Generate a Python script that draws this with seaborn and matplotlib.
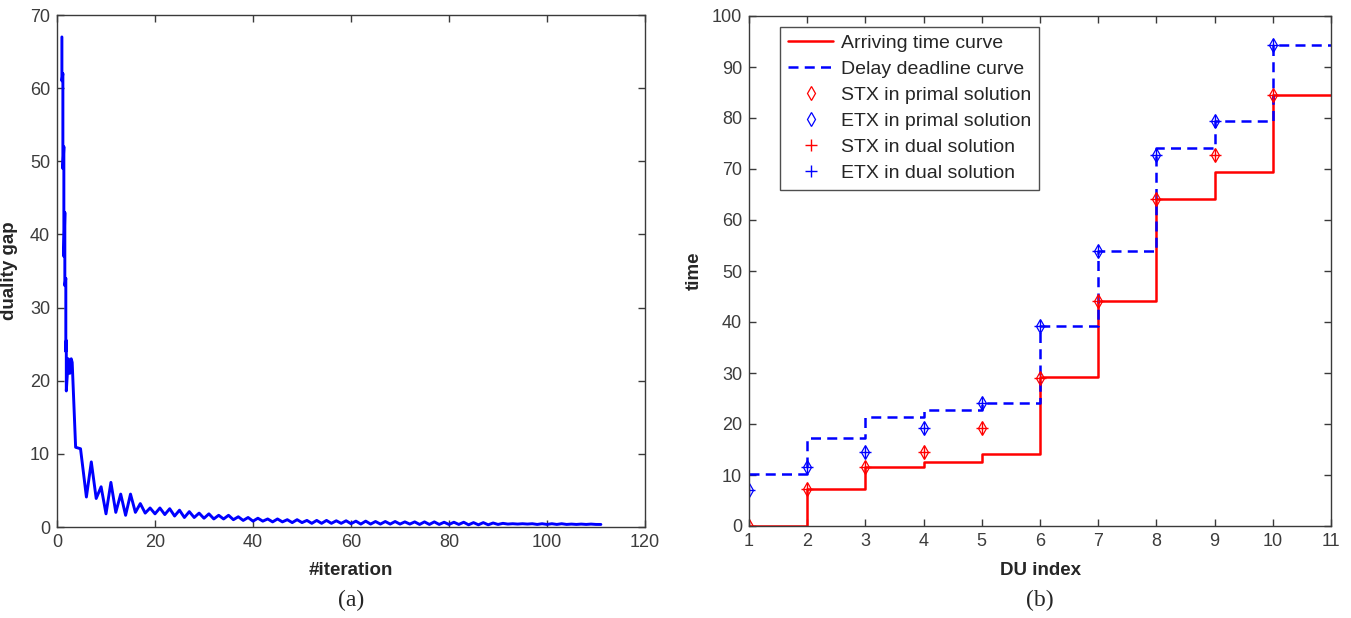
import matplotlib
matplotlib.use("Agg")
import matplotlib.pyplot as plt
import seaborn as sns

# ---------------------------------------------------------------
# (a) duality gap vs iteration
# ---------------------------------------------------------------
gap_iter_head = [1.0, 1.0, 1.2, 1.2, 1.4, 1.4, 1.6, 1.6, 1.8, 1.8, 1.9, 1.9,
                 2.3, 2.6, 2.9, 3.1, 3.8, 4.8, 6, 7, 8, 9, 10, 11]
gap_value_head = [67, 61, 62, 49, 52, 37, 43, 33, 34, 24, 25.5, 18.6,
                  23, 21, 23, 22.5, 10.9, 10.7, 4.1, 8.9, 3.9, 5.5, 1.8, 6.1]

# iterations 12 .. 111
gap_value_tail = [
    2.0, 4.5, 1.6, 4.5, 2.0, 3.2, 1.9, 2.6, 1.8, 2.6,
    1.7, 2.5, 1.5, 2.3, 1.3, 2.1, 1.3, 1.9, 1.2, 1.8,
    1.1, 1.6, 1.1, 1.6, 1.0, 1.4, 0.9, 1.3, 0.8, 1.2,
    0.8, 1.1, 0.7, 1.1, 0.7, 1.0, 0.6, 1.0, 0.6, 0.9,
    0.5, 0.9, 0.5, 0.9, 0.5, 0.85, 0.5, 0.85, 0.45, 0.8,
    0.4, 0.8, 0.4, 0.75, 0.4, 0.75, 0.4, 0.75, 0.4, 0.7,
    0.4, 0.7, 0.35, 0.7, 0.35, 0.7, 0.35, 0.65, 0.35, 0.65,
    0.35, 0.65, 0.3, 0.6, 0.3, 0.6, 0.3, 0.55, 0.35, 0.5,
    0.4, 0.45, 0.4, 0.45, 0.4, 0.45, 0.35, 0.45, 0.35, 0.45,
    0.35, 0.45, 0.35, 0.4, 0.35, 0.4, 0.35, 0.4, 0.35, 0.35,
]
gap_iter_tail = list(range(12, 12 + len(gap_value_tail)))

gap_iter = gap_iter_head + gap_iter_tail
gap_value = gap_value_head + gap_value_tail

# ---------------------------------------------------------------
# (b) arriving / deadline curves per DU
# ---------------------------------------------------------------
du_index = [1, 2, 3, 4, 5, 6, 7, 8, 9, 10, 11]
arriving_time = [0, 7.2, 11.6, 12.6, 14.1, 29.2, 44.1, 64.1, 69.5, 84.5, 84.5]
delay_deadline = [10.1, 17.3, 21.4, 22.7, 24.2, 39.3, 54.0, 74.2, 79.5, 94.4, 94.4]

tx_index = [1, 2, 3, 4, 5, 6, 7, 8, 9, 10]
stx_time = [0, 7.2, 11.5, 14.6, 19.2, 29.1, 44.1, 64.1, 72.7, 84.5]
etx_time = [7.1, 11.5, 14.6, 19.2, 24.2, 39.2, 54.0, 72.7, 79.5, 94.4]

# ---------------------------------------------------------------
sns.set_style("ticks")
plt.rcParams["font.family"] = ["Liberation Sans", "DejaVu Sans"]

AX_COLOR = "#3a3a3a"

fig = plt.figure(figsize=(13.51, 6.18), dpi=100)
ax1 = fig.add_axes([57 / 1351, 91 / 618, 588 / 1351, 512 / 618])
ax2 = fig.add_axes([749 / 1351, 92 / 618, 582 / 1351, 510 / 618])


def matlab_axes(ax):
    for side in ["top", "right", "bottom", "left"]:
        ax.spines[side].set_visible(True)
        ax.spines[side].set_color(AX_COLOR)
        ax.spines[side].set_linewidth(1.0)
    ax.tick_params(direction="in", top=True, right=True, length=5,
                   width=1.0, color=AX_COLOR, labelcolor="#3c3c3c",
                   labelsize=13, pad=5)
    ax.grid(False)


# left panel
sns.lineplot(x=gap_iter, y=gap_value, ax=ax1, estimator=None, sort=False,
             color="#0000ff", linewidth=2.1)
ax1.set_xlim(0, 120)
ax1.set_ylim(0, 70)
ax1.set_xticks(range(0, 121, 20))
ax1.set_yticks(range(0, 71, 10))
matlab_axes(ax1)
ax1.set_xlabel("#iteration", fontsize=13.5, fontweight="bold")
ax1.set_ylabel("duality gap", fontsize=13.5, fontweight="bold")
ax1.xaxis.set_label_coords(0.5, -0.068)
ax1.yaxis.set_label_coords(-0.066, 0.5)

# right panel
sns.lineplot(x=du_index, y=arriving_time, ax=ax2, color="#ff0000",
             linewidth=1.8, drawstyle="steps-post", label="Arriving time curve")
sns.lineplot(x=du_index, y=delay_deadline, ax=ax2, color="#0000ff",
             linewidth=1.8, linestyle=(0, (4, 2.5)), drawstyle="steps-post",
             label="Delay deadline curve")
sns.lineplot(x=tx_index, y=stx_time, ax=ax2, linestyle="", marker="d",
             markersize=7, markerfacecolor="none", markeredgecolor="#ff0000",
             markeredgewidth=0.9, color="#ff0000",
             label="STX in primal solution")
sns.lineplot(x=tx_index, y=etx_time, ax=ax2, linestyle="", marker="d",
             markersize=7, markerfacecolor="none", markeredgecolor="#0000ff",
             markeredgewidth=0.9, color="#0000ff",
             label="ETX in primal solution")
sns.lineplot(x=tx_index, y=stx_time, ax=ax2, linestyle="", marker="+",
             markersize=8, markeredgecolor="#ff0000", markeredgewidth=1.0,
             color="#ff0000", label="STX in dual solution")
sns.lineplot(x=tx_index, y=etx_time, ax=ax2, linestyle="", marker="+",
             markersize=8, markeredgecolor="#0000ff", markeredgewidth=1.0,
             color="#0000ff", label="ETX in dual solution")

ax2.set_xlim(1, 11)
ax2.set_ylim(0, 100)
ax2.set_xticks(range(1, 12))
ax2.set_yticks(range(0, 101, 10))
matlab_axes(ax2)
ax2.set_xlabel("DU index", fontsize=13.5, fontweight="bold")
ax2.set_ylabel("time", fontsize=13.5, fontweight="bold")
ax2.xaxis.set_label_coords(0.5, -0.071)
ax2.yaxis.set_label_coords(-0.079, 0.5)

leg = ax2.legend(loc="upper left", bbox_to_anchor=(0.054, 0.979),
                 fontsize=14, frameon=True, fancybox=False, handlelength=2.3,
                 handletextpad=0.4, borderpad=0.4, labelspacing=0.43,
                 borderaxespad=0)
leg.get_frame().set_edgecolor("#222222")
leg.get_frame().set_linewidth(1.0)

fig.text(351 / 1351, 1 - 600 / 618, "(a)", ha="center", va="center",
         fontsize=17, family=["Liberation Serif", "DejaVu Serif"])
fig.text(1040 / 1351, 1 - 600 / 618, "(b)", ha="center", va="center",
         fontsize=17, family=["Liberation Serif", "DejaVu Serif"])

fig.savefig("out.png", dpi=100, facecolor="white")
